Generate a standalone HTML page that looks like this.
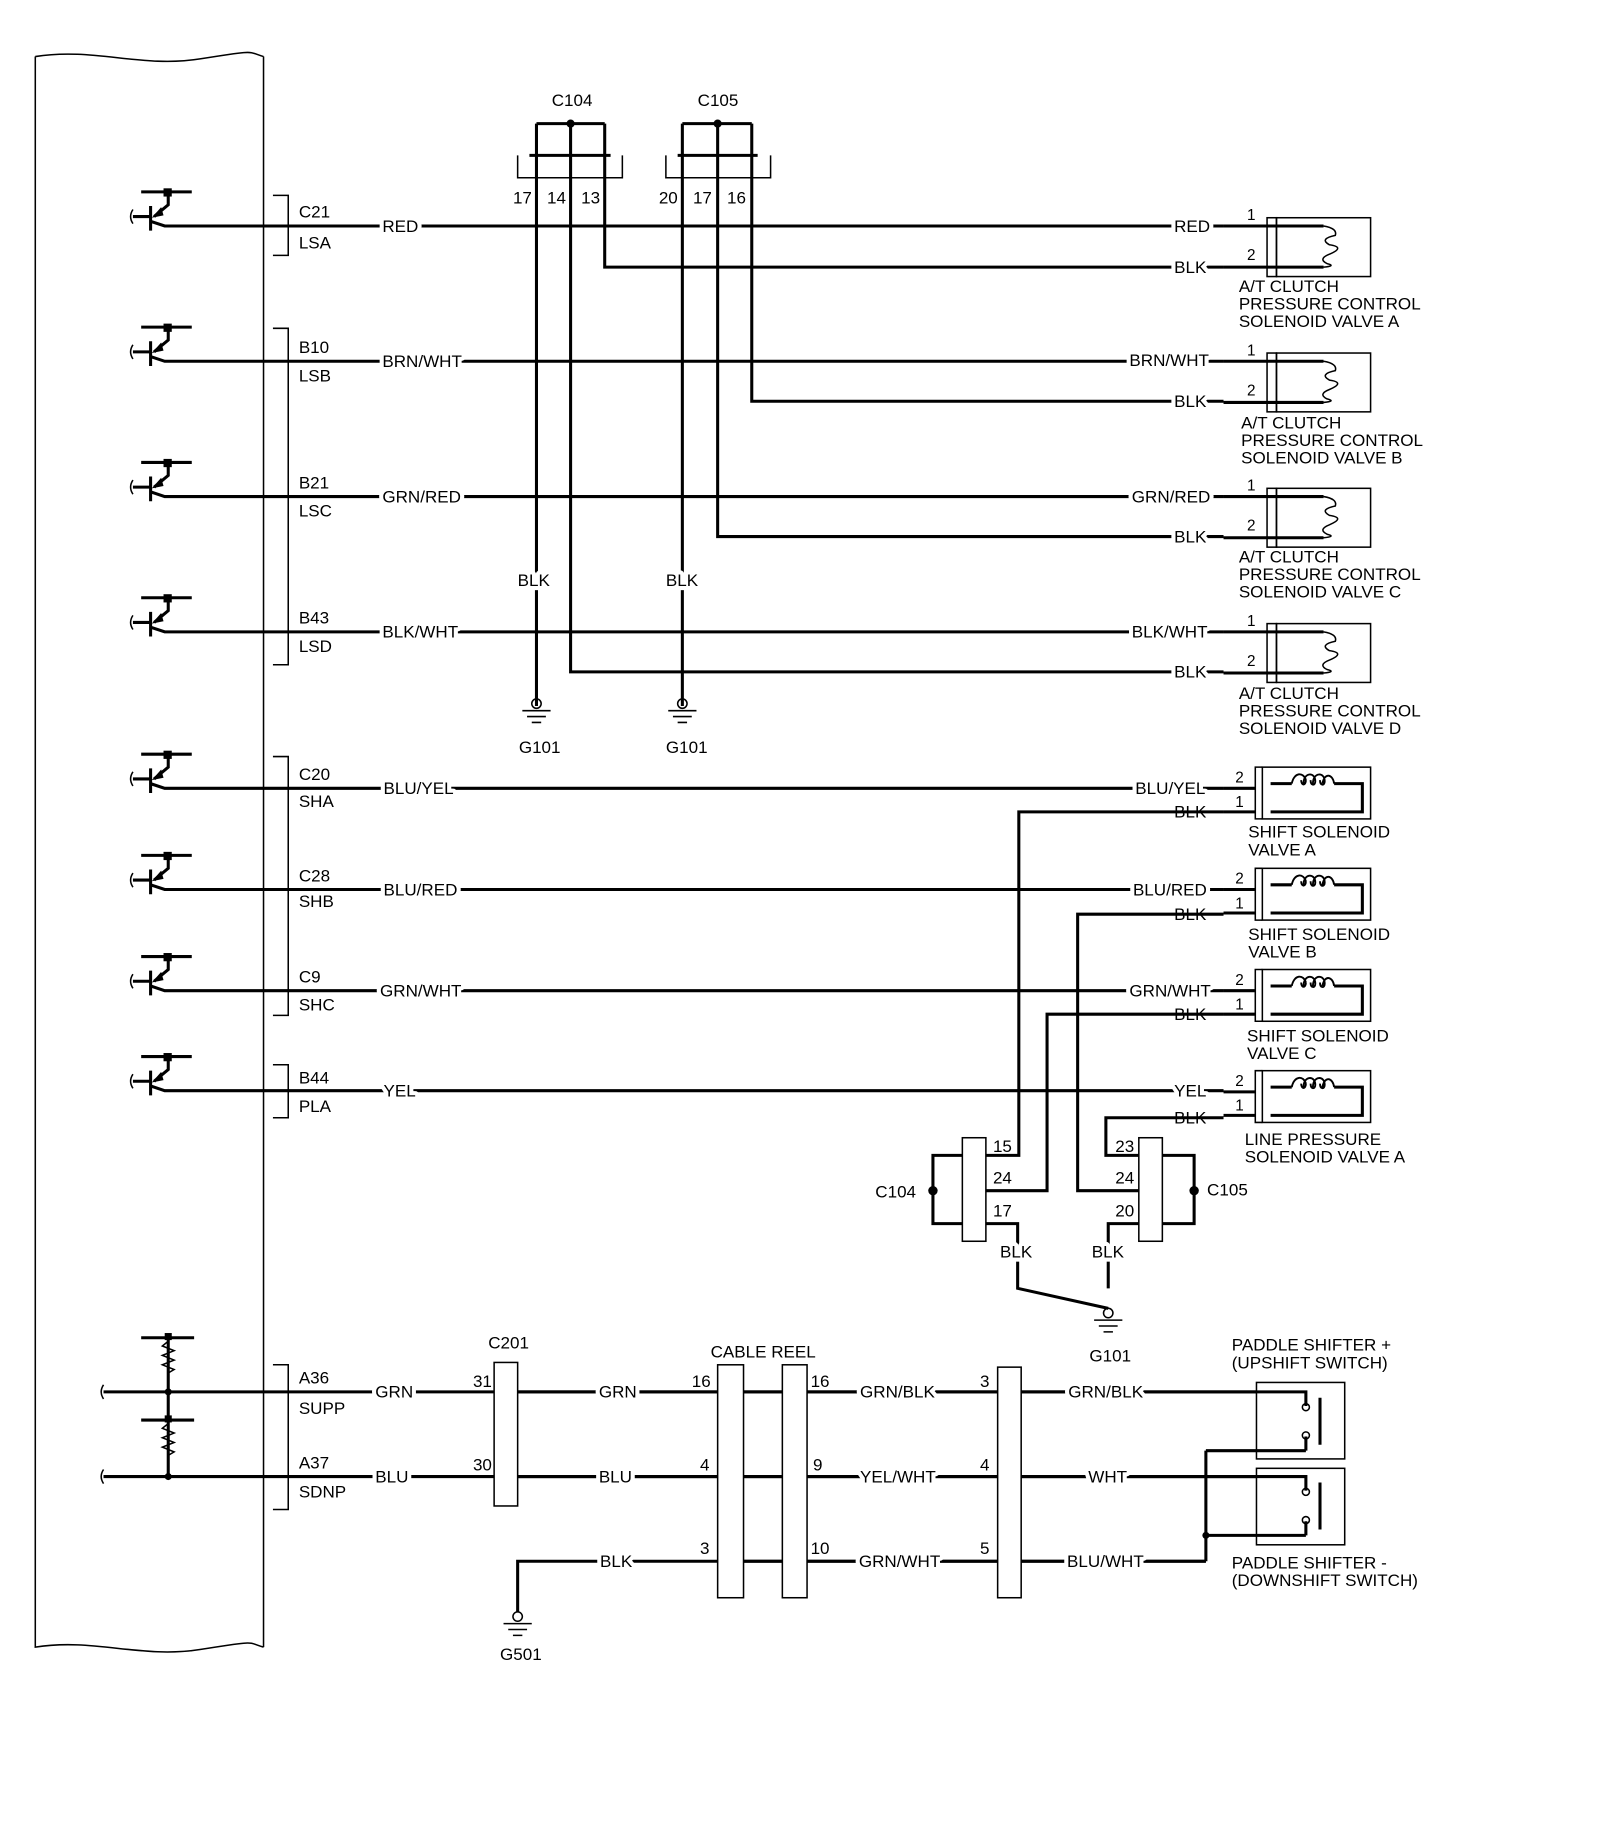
<!DOCTYPE html>
<html><head><meta charset="utf-8"><style>
html,body{margin:0;padding:0;background:#fff}
svg{display:block}
text{font-family:"Liberation Sans",sans-serif;font-size:14.5px;fill:#000}
.l{stroke:#000;stroke-width:2.6;fill:none}
.t{stroke:#000;stroke-width:1.3;fill:none}
.w{stroke:#fff;stroke-width:7;paint-order:stroke;stroke-linejoin:round}
</style></head><body>
<svg width="1600" height="1839" viewBox="0 0 1360 1563" xmlns="http://www.w3.org/2000/svg">
<path class="t" d="M30,48 C80,40 120,58 170,50 S210,44 224,48 M30,48 V1400 C80,1392 120,1410 170,1402 S210,1396 224,1400 M224,48 V1400"/>

<g id="tr">
<path class="l" d="M120,163 H163 M143,163 V174 L131,184 M128,175 V196 M113,184 H128 M128,188 L140,192 H224"/>
<rect x="139" y="160" width="7" height="7"/>
<path d="M129,185 L137,176 L139,183 Z"/>
<path class="t" d="M113,178 q-4,6 0,12"/>
</g>
<use href="#tr" y="115"/><use href="#tr" y="230"/><use href="#tr" y="345"/>
<use href="#tr" y="478"/><use href="#tr" y="564"/><use href="#tr" y="650"/><use href="#tr" y="735"/>

<path class="t" d="M232,166 H245 V217 H232 M232,279 H245 V565 H232 M232,643 H245 V863 H232 M232,905 H245 V950 H232 M232,1160 H245 V1283 H232"/>

<text x="254" y="185">C21</text><text x="254" y="211">LSA</text>
<text x="254" y="300">B10</text><text x="254" y="324">LSB</text>
<text x="254" y="415">B21</text><text x="254" y="439">LSC</text>
<text x="254" y="530">B43</text><text x="254" y="554">LSD</text>
<text x="254" y="663">C20</text><text x="254" y="686">SHA</text>
<text x="254" y="749">C28</text><text x="254" y="771">SHB</text>
<text x="254" y="835">C9</text><text x="254" y="859">SHC</text>
<text x="254" y="921">B44</text><text x="254" y="945">PLA</text>
<text x="254" y="1176">A36</text><text x="254" y="1202">SUPP</text>
<text x="254" y="1248">A37</text><text x="254" y="1273">SDNP</text>

<text x="469" y="90">C104</text><text x="593" y="90">C105</text>
<path class="t" d="M440,132 V151 H529 V132 M566,132 V151 H655 V132"/>
<path class="l" d="M450,132 H519 M576,132 H644"/>
<path class="l" d="M456,105 H514 M580,105 H639"/>
<circle cx="485" cy="105" r="3.5"/><circle cx="610" cy="105" r="3.5"/>
<text x="436" y="173">17</text><text x="465" y="173">14</text><text x="494" y="173">13</text>
<text x="560" y="173">20</text><text x="589" y="173">17</text><text x="618" y="173">16</text>

<path class="l" d="M456,105 V600 M485,105 V571 H1040 M514,105 V227 H1040 M580,105 V600 M610,105 V456 H1040 M639,105 V341 H1040"/>
<path class="l" d="M224,192 H1040 M224,307 H1040 M224,422 H1040 M224,537 H1040 M224,670 H1040 M224,756 H1040 M224,842 H1040 M224,927 H1040"/>
<g class="t"><circle cx="456" cy="598" r="4"/><path d="M444,604 H468 M448,609 H464 M452,614 H460"/>
<circle cx="580" cy="598" r="4"/><path d="M568,604 H592 M572,609 H588 M576,614 H584"/></g>
<text x="440" y="498" class="w">BLK</text><text x="566" y="498" class="w">BLK</text>
<text x="441" y="640">G101</text><text x="566" y="640">G101</text>

<g class="w">
<text x="325" y="197">RED</text><text x="998" y="197">RED</text><text x="998" y="232">BLK</text>
<text x="325" y="312">BRN/WHT</text><text x="960" y="311">BRN/WHT</text><text x="998" y="346">BLK</text>
<text x="325" y="427">GRN/RED</text><text x="962" y="427">GRN/RED</text><text x="998" y="461">BLK</text>
<text x="325" y="542">BLK/WHT</text><text x="962" y="542">BLK/WHT</text><text x="998" y="576">BLK</text>
<text x="326" y="675">BLU/YEL</text><text x="965" y="675">BLU/YEL</text><text x="998" y="695">BLK</text>
<text x="326" y="761">BLU/RED</text><text x="963" y="761">BLU/RED</text><text x="998" y="782">BLK</text>
<text x="323" y="847">GRN/WHT</text><text x="960" y="847">GRN/WHT</text><text x="998" y="867">BLK</text>
<text x="326" y="932">YEL</text><text x="998" y="932">YEL</text><text x="998" y="955">BLK</text>
</g>

<g id="sa">
<path class="l" d="M1040,192 H1125 M1040,227 H1125"/>
<rect class="t" x="1077" y="185" width="8" height="50"/>
<rect class="t" x="1085" y="185" width="80" height="50"/>
<path class="t" d="M1125,192 q12,2 10,8 q-14,3 -5,8 q14,2 0,8 q-10,4 -2,8 q8,2 -3,3"/>
<text x="1060" y="187" style="font-size:13px">1</text><text x="1060" y="221" style="font-size:13px">2</text>
</g>
<use href="#sa" y="115"/><use href="#sa" y="230"/><use href="#sa" y="345"/>
<text x="1053" y="248">A/T CLUTCH</text><text x="1053" y="263">PRESSURE CONTROL</text><text x="1053" y="278">SOLENOID VALVE A</text>
<text x="1055" y="364">A/T CLUTCH</text><text x="1055" y="379">PRESSURE CONTROL</text><text x="1055" y="394">SOLENOID VALVE B</text>
<text x="1053" y="478">A/T CLUTCH</text><text x="1053" y="493">PRESSURE CONTROL</text><text x="1053" y="508">SOLENOID VALVE C</text>
<text x="1053" y="594">A/T CLUTCH</text><text x="1053" y="609">PRESSURE CONTROL</text><text x="1053" y="624">SOLENOID VALVE D</text>

<g id="sh">
<path class="l" d="M1040,670 H1067 M1040,690 H1067"/>
<path class="t" d="M1073,652 H1067 V696 H1073"/>
<rect class="t" x="1073" y="652" width="92" height="44"/>
<path class="l" d="M1080,666 H1098 M1134,666 H1158 V690 H1080"/>
<path class="t" style="stroke-width:1.6" d="M1098,666 C1100,656 1108,656 1110,663 M1108,666 C1108,656 1118,656 1118,664 C1118,668 1114,668 1114,663 M1116,666 C1116,656 1126,656 1126,664 C1126,668 1122,668 1122,663 M1124,666 C1126,656 1133,658 1134,666 M1110,663 C1110,668 1106,668 1106,663"/>
<text x="1050" y="665" style="font-size:13px">2</text><text x="1050" y="686" style="font-size:13px">1</text>
</g>
<use href="#sh" y="86"/><use href="#sh" y="172"/><use href="#sh" y="258"/>
<text x="1061" y="712">SHIFT SOLENOID</text><text x="1061" y="727">VALVE A</text>
<text x="1061" y="799">SHIFT SOLENOID</text><text x="1061" y="814">VALVE B</text>
<text x="1060" y="885">SHIFT SOLENOID</text><text x="1060" y="900">VALVE C</text>
<text x="1058" y="973">LINE PRESSURE</text><text x="1058" y="988">SOLENOID VALVE A</text>

<path class="l" d="M1040,690 H866 V982 H838 M1040,777 H916 V1012 H968 M1040,862 H890 V1012 H838 M1040,950 H940 V982 H968"/>
<path class="l" d="M838,1040 H865 V1095 L942,1112 M968,1040 H942 V1095"/>
<rect class="t" x="818" y="967" width="20" height="88"/>
<rect class="t" x="968" y="967" width="20" height="88"/>
<path class="l" d="M818,982 H793 V1040 H818 M988,982 H1015 V1040 H988"/>
<circle cx="793" cy="1012" r="4"/><circle cx="1015" cy="1012" r="4"/>
<text x="844" y="979">15</text><text x="844" y="1006">24</text><text x="844" y="1034">17</text>
<text x="948" y="979">23</text><text x="948" y="1006">24</text><text x="948" y="1034">20</text>
<text x="744" y="1018">C104</text><text x="1026" y="1016">C105</text>
<text x="850" y="1069" class="w">BLK</text><text x="928" y="1069" class="w">BLK</text>
<g class="t"><circle cx="942" cy="1116" r="4"/><path d="M930,1122 H954 M934,1127 H950 M938,1132 H946"/></g>
<text x="926" y="1157">G101</text>

<path class="l" d="M88,1183 H224 M88,1255 H224 M143,1137 V1255 M120,1137 H165 M120,1207 H165"/>
<path class="t" d="M143,1140 l-5,4 l10,4 l-10,4 l10,4 l-10,4 l10,4 l-5,3 M143,1210 l-5,4 l10,4 l-10,4 l10,4 l-10,4 l10,4 l-5,3"/>
<rect x="140" y="1133" width="6" height="6"/><rect x="140" y="1203" width="6" height="6"/>
<circle cx="143" cy="1183" r="3"/><circle cx="143" cy="1255" r="3"/>
<path class="t" d="M88,1177 q-4,6 0,12 M88,1249 q-4,6 0,12"/>

<path class="l" d="M224,1183 H1068 M224,1255 H1068 M440,1370 V1327 H1025 M1025,1233 V1327 M1025,1233 H1110 M1025,1305 H1110"/>
<circle cx="1025" cy="1305" r="3"/>
<g class="t"><circle cx="440" cy="1374" r="4"/><path d="M428,1380 H452 M432,1385 H448 M436,1390 H444"/></g>
<text x="425" y="1411">G501</text>
<rect class="t" x="420" y="1158" width="20" height="122" style="fill:#fff"/>
<rect class="t" x="610" y="1160" width="22" height="198" style="fill:#fff"/>
<rect class="t" x="665" y="1160" width="21" height="198" style="fill:#fff"/>
<rect class="t" x="848" y="1162" width="20" height="196" style="fill:#fff"/>
<path class="l" d="M440,1183 H610 M440,1255 H610 M632,1183 H665 M632,1255 H665 M632,1327 H665 M686,1183 H848 M686,1255 H848 M686,1327 H848 M868,1183 H1068 M868,1255 H1068 M868,1327 H1025"/>
<text x="415" y="1146">C201</text><text x="604" y="1154">CABLE REEL</text>
<text x="402" y="1179">31</text><text x="402" y="1250">30</text>
<text x="588" y="1179">16</text><text x="595" y="1250">4</text><text x="595" y="1321">3</text>
<text x="689" y="1179">16</text><text x="691" y="1250">9</text><text x="689" y="1321">10</text>
<text x="833" y="1179">3</text><text x="833" y="1250">4</text><text x="833" y="1321">5</text>
<g class="w">
<text x="319" y="1188">GRN</text><text x="319" y="1260">BLU</text>
<text x="509" y="1188">GRN</text><text x="509" y="1260">BLU</text><text x="510" y="1332">BLK</text>
<text x="731" y="1188">GRN/BLK</text><text x="731" y="1260">YEL/WHT</text><text x="730" y="1332">GRN/WHT</text>
<text x="908" y="1188">GRN/BLK</text><text x="925" y="1260">WHT</text><text x="907" y="1332">BLU/WHT</text>
</g>
<rect class="t" x="1068" y="1175" width="75" height="65"/>
<rect class="t" x="1068" y="1248" width="75" height="65"/>
<path class="l" d="M1068,1183 H1110 V1195 M1110,1221 V1233 M1068,1255 H1110 V1267 M1110,1293 V1305 M1122,1188 V1228 M1122,1260 V1300"/>
<g class="t"><circle cx="1110" cy="1196" r="3"/><circle cx="1110" cy="1220" r="3"/><circle cx="1110" cy="1268" r="3"/><circle cx="1110" cy="1292" r="3"/></g>
<text x="1047" y="1148">PADDLE SHIFTER +</text><text x="1047" y="1163">(UPSHIFT SWITCH)</text>
<text x="1047" y="1333">PADDLE SHIFTER -</text><text x="1047" y="1348">(DOWNSHIFT SWITCH)</text>
</svg>
</body></html>
